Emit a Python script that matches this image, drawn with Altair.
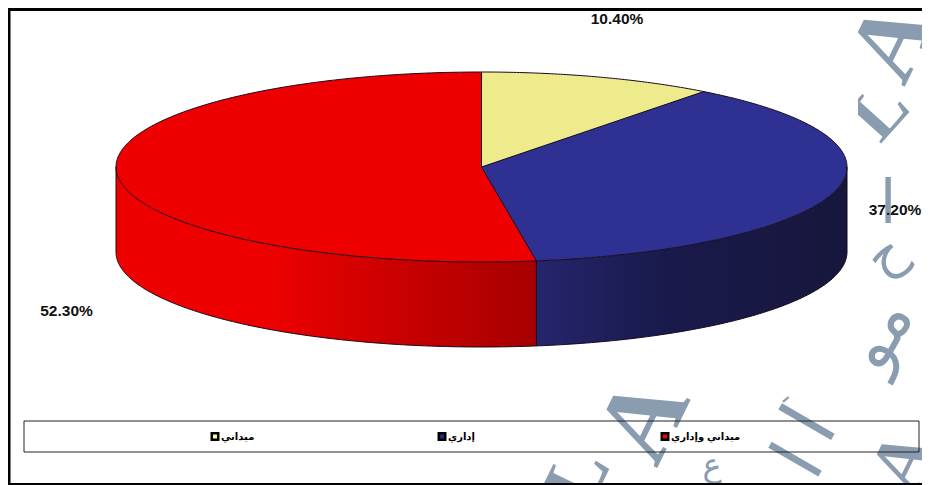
import math
import altair as alt
import pandas as pd

# ---- data ----
categories = ["ميداني", "إداري", "ميداني وإداري"]
shares = [10.40, 37.20, 52.30]
share_labels = ["10.40%", "37.20%", "52.30%"]
top_colors = ["#eeeb8c", "#2e3191", "#ee0000"]
legend_colors = ["#ffff99", "#1f2a8c", "#ff0000"]

# ---- geometry of the pseudo 3D pie ----
CX, CY, RX, RY, DEPTH = 481.5, 167.0, 365.5, 95.0, 85.0
X_DOM, Y_DOM = [8, 922], [485, 8]
EDGE = "#14081c"


def rim(deg):
    t = math.radians(deg)
    return CX + RX * math.sin(t), CY - RY * math.cos(t)


def arc_pts(a, b, step=0.5):
    n = max(2, int(abs(b - a) / step))
    return [rim(a + (b - a) * i / n) for i in range(n + 1)]


def wedge_area(a, b):
    """Vertical slices (x, y, y2) of the elliptical wedge between two angles."""
    poly = [(CX, CY)] + arc_pts(a, b) + [(CX, CY)]
    xs = sorted({round(p[0], 3) for p in poly})
    xs = sorted(set(xs + [x - 0.002 for x in xs] + [x + 0.002 for x in xs]))
    rows = []
    for x in xs:
        ys = []
        for (x0, y0), (x1, y1) in zip(poly, poly[1:]):
            if min(x0, x1) <= x <= max(x0, x1) and x0 != x1:
                ys.append(y0 + (y1 - y0) * (x - x0) / (x1 - x0))
        if len(ys) >= 2:
            rows.append({"x": x, "y": min(ys), "y2": max(ys)})
    return pd.DataFrame(rows)


X = alt.X("x:Q", scale=alt.Scale(domain=X_DOM, nice=False, zero=False), axis=None)
Y = alt.Y("y:Q", scale=alt.Scale(domain=Y_DOM, nice=False, zero=False), axis=None)


def line_of(points, color=EDGE, width=1.0):
    df = pd.DataFrame([{"x": p[0], "y": p[1], "i": i} for i, p in enumerate(points)])
    return alt.Chart(df).mark_line(color=color, strokeWidth=width, interpolate="linear").encode(
        x=X, y=Y, order="i:Q")


def box(x0, x1, y0, y1, **kw):
    df = pd.DataFrame([{"x": x0, "x2": x1, "y": y0, "y2": y1}])
    return alt.Chart(df).mark_rect(**kw).encode(x=X, x2="x2:Q", y=Y, y2="y2:Q")


def text_at(rows, **kw):
    return alt.Chart(pd.DataFrame(rows)).mark_text(**kw).encode(x=X, y=Y, text="t:N")


# ---- cumulative angles ----
bounds = [0.0]
for s in shares[:-1]:
    bounds.append(bounds[-1] + s * 3.6)
bounds.append(360.0)

layers = []

# ---- faint watermark behind the chart ----
WM = "#8a9cb0"
wm_letters = [
    ("A", 893, 42, 296, 100), ("L", 880, 112, 312, 72), ("A", 645, 420, 296, 108),
    ("L", 578, 478, 296, 80), ("A", 905, 462, 296, 80),
]
for t, x, y, ang, size in wm_letters:
    layers.append(text_at([{"x": x, "y": y, "t": t}], font="Liberation Serif", fontWeight="bold",
                          fontSize=size, angle=ang, color=WM, align="center", baseline="middle"))
wm_arabic = [
    ("ا", 888, 205, 0, 60),
    ("ح", 885, 255, 320, 52),
    ("مو", 880, 335, 300, 66),
    ("ا", 812, 425, 300, 80),
    ("ا", 800, 462, 300, 76),
    ("ـ", 782, 395, 320, 24),
    ("ع", 712, 466, 0, 32),
]
for t, x, y, ang, size in wm_arabic:
    layers.append(text_at([{"x": x, "y": y, "t": t}], font="DejaVu Sans", fontWeight="normal",
                          fontSize=size, angle=ang, color=WM, align="center", baseline="middle"))
layers.append(box(8, 858, 8, 389, color="white"))

# ---- side walls ----
red_grad = alt.LinearGradient(gradient="linear", x1=0, x2=1, y1=0, y2=0, stops=[
    alt.GradientStop(color="#ee0000", offset=0), alt.GradientStop(color="#ee0000", offset=0.36),
    alt.GradientStop(color="#cc0000", offset=0.65), alt.GradientStop(color="#a60000", offset=1)])
blue_grad = alt.LinearGradient(gradient="linear", x1=0, x2=1, y1=0, y2=0, stops=[
    alt.GradientStop(color="#25256c", offset=0), alt.GradientStop(color="#191a4c", offset=0.4),
    alt.GradientStop(color="#17173c", offset=1)])
for a, b, grad in [(bounds[2], 270.0, red_grad), (90.0, bounds[2], blue_grad)]:
    pts = sorted(arc_pts(a, b), key=lambda p: p[0])
    df = pd.DataFrame([{"x": p[0], "y": p[1], "y2": p[1] + DEPTH} for p in pts])
    layers.append(alt.Chart(df).mark_area(color=grad).encode(x=X, y=Y, y2="y2:Q"))

# ---- top faces ----
for i, c in enumerate(top_colors):
    layers.append(alt.Chart(wedge_area(bounds[i], bounds[i + 1])).mark_area(color=c).encode(
        x=X, y=Y, y2="y2:Q"))

# ---- outlines ----
layers.append(line_of(arc_pts(0, 360)))
for b in bounds[:3]:
    layers.append(line_of([(CX, CY), rim(b)]))
lower = [(p[0], p[1] + DEPTH) for p in arc_pts(90, 270)]
layers.append(line_of(lower))
for deg in [90, 270, bounds[2]]:
    x, y = rim(deg)
    layers.append(line_of([(x, y), (x, y + DEPTH)]))

# ---- value labels ----
label_pos = [(617, 19), (895, 210), (66.5, 311)]
for (x, y), t in zip(label_pos, share_labels):
    layers.append(text_at([{"x": x, "y": y, "t": t}], font="Liberation Sans", fontWeight="bold",
                          fontSize=15.5, color="#111111", align="center", baseline="middle"))

# ---- legend ----
layers.append(box(24, 919, 421, 452, fillOpacity=0, stroke="#222222", strokeWidth=1))
legend_x = [215, 442, 665]
for x, c, t in zip(legend_x, legend_colors, categories):
    df = pd.DataFrame([{"x": x, "y": 436.5}])
    layers.append(alt.Chart(df).mark_point(shape="square", filled=True, size=42, fill=c, stroke="#000000",
                                           strokeWidth=2.5, opacity=1).encode(x=X, y=Y))
    layers.append(text_at([{"x": x + 6, "y": 437, "t": t}], font="Liberation Sans, DejaVu Sans",
                          fontWeight="bold", fontSize=10, color="#000000", align="left", baseline="middle"))

# ---- outer frame ----
layers.append(box(8, 922, 8, 11, color="#000000"))
layers.append(box(8, 10.5, 8, 485, color="#000000"))
layers.append(box(8, 922, 483, 485, color="#000000"))

chart = alt.layer(*layers).properties(
    width=914, height=477, padding=0,
    autosize=alt.AutoSizeParams(type="none"),
).configure_view(stroke=None).configure(background="white")

chart.save("out.html", embed_options={"renderer": "svg", "actions": False})
